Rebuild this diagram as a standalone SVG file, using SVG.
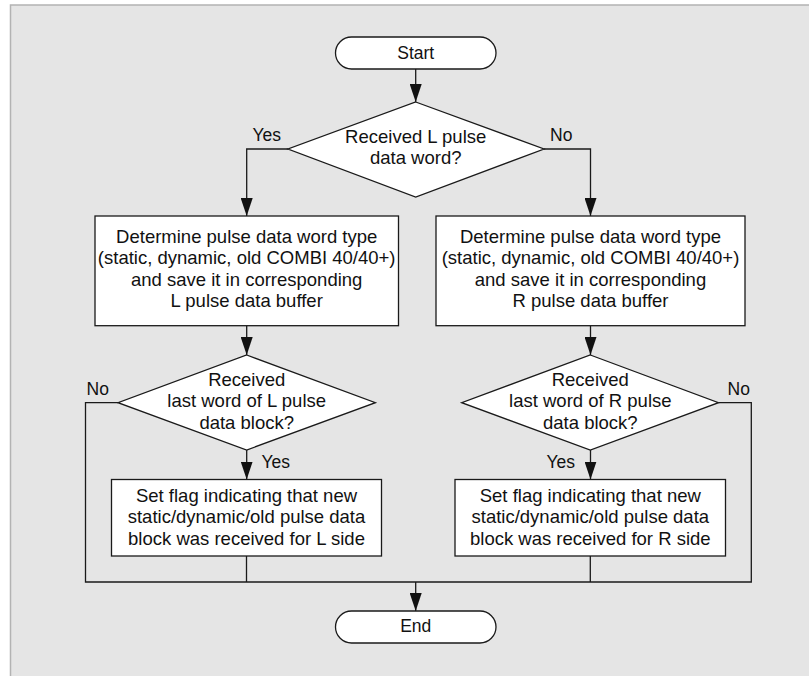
<svg xmlns="http://www.w3.org/2000/svg" width="809" height="676" viewBox="0 0 809 676">
  <defs>
    <marker id="arrow" markerUnits="userSpaceOnUse" markerWidth="18" markerHeight="12" refX="18" refY="6" orient="auto">
      <path d="M0,0 L18,6 L0,12 Z" fill="#111"/>
    </marker>
    <style>
      .panel { fill: #e5e5e5; stroke: #b3b3b3; stroke-width: 1.5; }
      .shape { fill: #ffffff; stroke: #1a1a1a; stroke-width: 1.3; }
      .line { fill: none; stroke: #1a1a1a; stroke-width: 1.3; }
      .arrow { marker-end: url(#arrow); }
      text { font-family: "Liberation Sans", Arial, sans-serif; fill: #111; }
      .t { font-size: 18.5px; text-anchor: middle; }
      .lbl { font-size: 17.5px; }
    </style>
  </defs>

  <!-- background panel -->
  <rect class="panel" x="10.5" y="5" width="820" height="700"/>

  <!-- connectors -->
  <g id="connectors">
    <line class="line arrow" x1="415.7" y1="69" x2="415.7" y2="102"/>
    <polyline class="line arrow" points="288,149 246.7,149 246.7,216"/>
    <polyline class="line arrow" points="544,149 590.5,149 590.5,216"/>
    <line class="line arrow" x1="246.7" y1="325.7" x2="246.7" y2="355"/>
    <line class="line arrow" x1="590.5" y1="325.7" x2="590.5" y2="355"/>
    <line class="line arrow" x1="246.7" y1="450" x2="246.7" y2="479.5"/>
    <line class="line arrow" x1="590.5" y1="450" x2="590.5" y2="479.5"/>
    <polyline class="line" points="118,402.7 85.5,402.7 85.5,582 751.3,582 751.3,402.7 718.5,402.7"/>
    <line class="line" x1="246.5" y1="556" x2="246.5" y2="582"/>
    <line class="line" x1="590.3" y1="556" x2="590.3" y2="582"/>
    <line class="line arrow" x1="415.7" y1="582" x2="415.7" y2="611"/>
    <text class="lbl" x="252.5" y="140.5">Yes</text>
    <text class="lbl" x="550" y="140.5">No</text>
    <text class="lbl" x="86.5" y="395">No</text>
    <text class="lbl" x="261.5" y="467.5">Yes</text>
    <text class="lbl" x="727.5" y="394.5">No</text>
    <text class="lbl" x="546.5" y="468">Yes</text>
  </g>

  <g id="start">
    <rect class="shape" x="335.5" y="37" width="160.5" height="32" rx="16" ry="16"/>
    <text class="lbl" x="415.7" y="58.5" text-anchor="middle">Start</text>
  </g>

  <g id="decision-l-pulse">
    <polygon class="shape" points="415.7,102 544,149 415.7,197 288,149"/>
    <text class="t" x="415.7" y="142.5">Received L pulse</text>
    <text class="t" x="415.7" y="164">data word?</text>
  </g>

  <g id="store-l-buffer">
    <rect class="shape" x="95" y="216" width="303.5" height="109.7"/>
    <text class="t" x="246.7" y="243">Determine pulse data word type</text>
    <text class="t" x="246.7" y="264.3">(static, dynamic, old COMBI 40/40+)</text>
    <text class="t" x="246.7" y="285.6">and save it in corresponding</text>
    <text class="t" x="246.7" y="307">L pulse data buffer</text>
  </g>

  <g id="store-r-buffer">
    <rect class="shape" x="436" y="216" width="309" height="109.7"/>
    <text class="t" x="590.5" y="243">Determine pulse data word type</text>
    <text class="t" x="590.5" y="264.3">(static, dynamic, old COMBI 40/40+)</text>
    <text class="t" x="590.5" y="285.6">and save it in corresponding</text>
    <text class="t" x="590.5" y="307">R pulse data buffer</text>
  </g>

  <g id="decision-l-last">
    <polygon class="shape" points="246.7,355 375.4,402.7 246.7,450 118,402.7"/>
    <text class="t" x="246.7" y="385.7">Received</text>
    <text class="t" x="246.7" y="407.2">last word of L pulse</text>
    <text class="t" x="246.7" y="428.5">data block?</text>
  </g>

  <g id="decision-r-last">
    <polygon class="shape" points="590.3,355 718.5,402.7 590.3,450 461.7,402.7"/>
    <text class="t" x="590.3" y="385.7">Received</text>
    <text class="t" x="590.3" y="407.2">last word of R pulse</text>
    <text class="t" x="590.3" y="428.5">data block?</text>
  </g>

  <g id="flag-l">
    <rect class="shape" x="111.5" y="479.5" width="270" height="76.5"/>
    <text class="t" x="246.5" y="501.7">Set flag indicating that new</text>
    <text class="t" x="246.5" y="523.3">static/dynamic/old pulse data</text>
    <text class="t" x="246.5" y="545">block was received for L side</text>
  </g>

  <g id="flag-r">
    <rect class="shape" x="455" y="479.5" width="270.5" height="76.5"/>
    <text class="t" x="590.3" y="501.7">Set flag indicating that new</text>
    <text class="t" x="590.3" y="523.3">static/dynamic/old pulse data</text>
    <text class="t" x="590.3" y="545">block was received for R side</text>
  </g>

  <g id="end">
    <rect class="shape" x="335.5" y="611" width="160.5" height="32" rx="16" ry="16"/>
    <text class="lbl" x="415.7" y="632" text-anchor="middle">End</text>
  </g>
</svg>
